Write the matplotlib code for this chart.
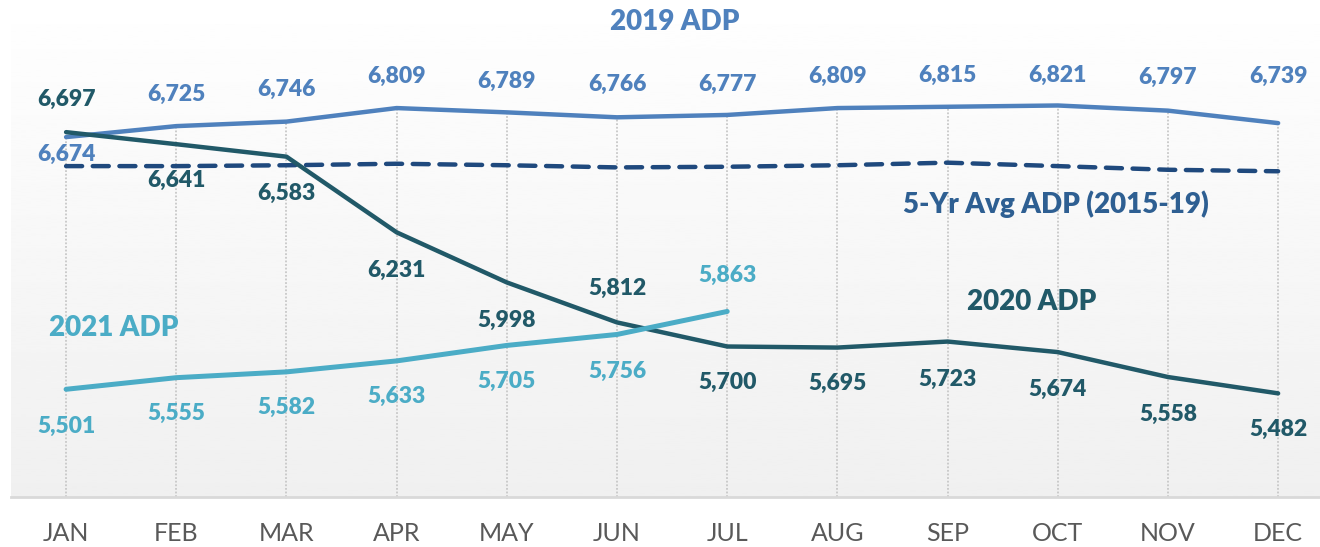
import numpy as np
import matplotlib
matplotlib.use("Agg")
import matplotlib.pyplot as plt

months = ["JAN", "FEB", "MAR", "APR", "MAY", "JUN", "JUL", "AUG", "SEP", "OCT", "NOV", "DEC"]
adp_2019 = [6674, 6725, 6746, 6809, 6789, 6766, 6777, 6809, 6815, 6821, 6797, 6739]
adp_avg = [6539, 6539, 6543, 6550, 6543, 6533, 6536, 6543, 6555, 6539, 6522, 6515]
adp_2020 = [6697, 6641, 6583, 6231, 5998, 5812, 5700, 5695, 5723, 5674, 5558, 5482]
adp_2021 = [5501, 5555, 5582, 5633, 5705, 5756, 5863]

c2019 = "#4f81bd"
cavg = "#1f497d"
c2020 = "#215968"
c2021 = "#4bacc6"

# label offsets in pixels (up is positive)
off_2019 = [-17, 32, 32, 32, 31, 33, 31, 32, 31, 30, 33, 47]
off_2020 = [33, -36, -37, -38, -38, 34, -36, -36, -38, -37, -37, -36]
off_2021 = [-37, -36, -36, -36, -36, -37, 36]

plt.rcParams['font.family'] = ['Lato', 'DejaVu Sans']

fig = plt.figure(figsize=(13.2, 5.47), dpi=100)
ax = fig.add_axes([11 / 1320, 50 / 547, 1309 / 1320, 473 / 547])

x = np.arange(len(months))
ax.set_xlim(-0.5, 11.38)
ax.set_ylim(5000, 7200)

# background gradient
grad = np.linspace(0.94, 0.995, 256).reshape(-1, 1)
ax.imshow(grad, extent=[0, 1, 0, 1], transform=ax.transAxes, cmap="gray",
          vmin=0, vmax=1, aspect="auto", origin="lower", zorder=0)

# drop lines
ax.vlines(x, 5000, adp_2019, colors="#c8c8c8", linestyles=(0, (1, 1)), linewidth=1.3, zorder=1)

ax.plot(x, adp_avg, color=cavg, lw=3.2, linestyle=(0, (3.6, 2.4)), dash_capstyle="round", zorder=2)
ax.plot(x, adp_2019, color=c2019, lw=3.2, solid_capstyle="round", zorder=3)
ax.plot(x, adp_2020, color=c2020, lw=3.2, solid_capstyle="round", zorder=4)
ax.plot(x[:len(adp_2021)], adp_2021, color=c2021, lw=3.6, solid_capstyle="round", zorder=5)


def add_labels(vals, offs, color):
    for i, (v, o) in enumerate(zip(vals, offs)):
        ax.annotate(f"{v:,}", (i, v), xytext=(0, o), textcoords="offset pixels",
                    ha="center", va="center", fontsize=16.5, fontweight="heavy",
                    color=color, zorder=6)


add_labels(adp_2019, off_2019, c2019)
add_labels(adp_2020, off_2020, c2020)
add_labels(adp_2021, off_2021, c2021)

# series names
fig.text(675 / 1320, 1 - 22 / 547, "2019 ADP", ha="center", va="center",
         fontsize=20, fontweight="heavy", color=c2019)
fig.text(1056 / 1320, 1 - 204 / 547, "5-Yr Avg ADP (2015-19)", ha="center", va="center",
         fontsize=20, fontweight="heavy", color="#2e5f92")
fig.text(1032 / 1320, 1 - 302 / 547, "2020 ADP", ha="center", va="center",
         fontsize=20, fontweight="heavy", color=c2020)
fig.text(114 / 1320, 1 - 328 / 547, "2021 ADP", ha="center", va="center",
         fontsize=20, fontweight="heavy", color=c2021)

ax.set_xticks(x)
ax.set_xticklabels(months, fontsize=18, color="#595959")
ax.tick_params(axis="x", length=0, pad=18)
ax.set_yticks([])
for s in ["top", "left", "right"]:
    ax.spines[s].set_visible(False)
ax.spines["bottom"].set_color("#d9d9d9")
ax.spines["bottom"].set_linewidth(2)

fig.savefig("out.png", dpi=100)
